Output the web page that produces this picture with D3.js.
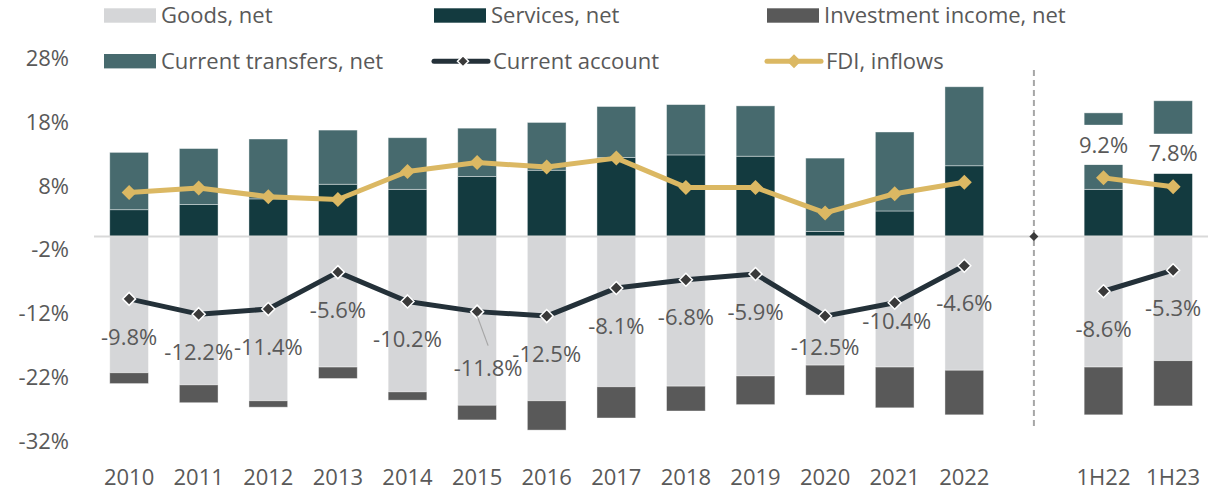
<!DOCTYPE html>
<html>
<head>
<meta charset="utf-8">
<script src="https://cdn.jsdelivr.net/npm/d3@7"></script>
<style>
  body { margin: 0; background: #fff; }
  text { font-family: "Segoe UI", "Open Sans", sans-serif; fill: #595959; }
</style>
</head>
<body>
<div id="chart"></div>
<script>
// data (% of GDP)
var categories = ["2010","2011","2012","2013","2014","2015","2016","2017","2018","2019","2020","2021","2022","","1H22","1H23"];
var goods      = [-21.4,-23.3,-25.8,-20.5,-24.4,-26.5,-25.8,-23.6,-23.5,-21.9,-20.2,-20.5,-21.0,null,-20.5,-19.5];
var services   = [4.2,5.0,5.9,8.2,7.4,9.4,10.4,12.4,12.8,12.6,0.8,4.0,11.1,null,7.4,10.2];
var investment = [-1.7,-2.8,-1.0,-1.8,-1.3,-2.3,-4.6,-4.9,-3.9,-4.5,-4.7,-6.4,-7.0,null,-7.5,-7.1];
var transfers  = [9.0,8.8,9.4,8.5,8.1,7.6,7.5,8.0,7.9,7.9,11.5,12.4,12.4,null,12.0,11.1];
var currentAccount = [-9.8,-12.2,-11.4,-5.6,-10.2,-11.8,-12.5,-8.1,-6.8,-5.9,-12.5,-10.4,-4.6,0,-8.6,-5.3];
var fdi        = [6.9,7.6,6.25,5.8,10.2,11.6,10.9,12.3,7.7,7.7,3.7,6.7,8.5,null,9.2,7.8];
var fdiLabelled = ["1H22","1H23"];
var tickValues = [28,18,8,-2,-12,-22,-32];
var seriesNames = ["Goods, net","Services, net","Investment income, net","Current transfers, net","Current account","FDI, inflows"];

var width = 1219, height = 489;
var colors = {
  goods: "#d5d6d8", services: "#133a3f", investment: "#595959",
  transfers: "#476a6e", ca: "#243139", caMarker: "#3a3a3a", fdi: "#dbb863"
};

var svg = d3.select("#chart").append("svg")
  .attr("width", width)
  .attr("height", height);

var x = d3.scaleBand()
  .domain(d3.range(categories.length))
  .range([94.3, 1207.9])
  .paddingInner(0.444)
  .paddingOuter(0.222);

var y = d3.scaleLinear().domain([-32, 28]).range([440.3, 58.1]);

function cx(i) { return x(i) + x.bandwidth() / 2; }
function diamond(r) { return "M0," + (-r) + "L" + r + ",0L0," + r + "L" + (-r) + ",0Z"; }

// y axis
var yAxis = svg.append("g")
  .attr("transform", "translate(69,0)")
  .call(d3.axisLeft(y).tickValues(tickValues).tickSize(0).tickPadding(0)
    .tickFormat(function(d){ return d + "%"; }));
yAxis.select(".domain").remove();
yAxis.selectAll("text")
  .attr("font-size", "22px")
  .attr("font-family", null)
  .attr("fill", "#595959")
  .attr("dy", "0.35em");

// stacked bars
var rows = categories.map(function(c, i){
  return { i: i, services: services[i] || 0, transfers: transfers[i] || 0,
           goods: goods[i] || 0, investment: investment[i] || 0, gap: goods[i] === null };
});
var keys = ["services","transfers","goods","investment"];
var stacked = d3.stack().keys(keys).offset(d3.stackOffsetDiverging)(rows);

svg.append("g").selectAll("g")
  .data(stacked).enter().append("g")
  .attr("fill", function(d){ return colors[d.key]; })
  .selectAll("rect")
  .data(function(d){ return d.filter(function(p){ return !p.data.gap; }); })
  .enter().append("rect")
  .attr("x", function(d){ return x(d.data.i); })
  .attr("width", x.bandwidth())
  .attr("y", function(d){ return y(Math.max(d[0], d[1])); })
  .attr("height", function(d){ return Math.abs(y(d[0]) - y(d[1])); })
  .attr("stroke", "#fff")
  .attr("stroke-opacity", 0.5)
  .attr("stroke-width", 0.8);

// zero line
svg.append("line")
  .attr("x1", 94).attr("x2", 1208)
  .attr("y1", y(0)).attr("y2", y(0))
  .attr("stroke", "#d9d9d9").attr("stroke-width", 2);

// divider between annual and half-year data
var gapIndex = categories.indexOf("");
svg.append("line")
  .attr("x1", cx(gapIndex)).attr("x2", cx(gapIndex))
  .attr("y1", 70).attr("y2", 429)
  .attr("stroke", "#a6a6a6").attr("stroke-width", 2)
  .attr("stroke-dasharray", "6,4");

// groups of points that are joined by lines
var groups = [d3.range(0, gapIndex), d3.range(gapIndex + 1, categories.length)];

var line = d3.line()
  .x(function(d){ return cx(d.i); })
  .y(function(d){ return y(d.v); });

function series(values) {
  return groups.map(function(g){ return g.map(function(i){ return { i: i, v: values[i] }; }); });
}

// FDI line
svg.append("g").selectAll("path")
  .data(series(fdi)).enter().append("path")
  .attr("d", line)
  .attr("fill", "none")
  .attr("stroke", colors.fdi)
  .attr("stroke-width", 5)
  .attr("stroke-linejoin", "round");
svg.append("g").selectAll("path")
  .data(fdi.map(function(v, i){ return { i: i, v: v }; }).filter(function(d){ return d.v !== null; }))
  .enter().append("path")
  .attr("transform", function(d){ return "translate(" + cx(d.i) + "," + y(d.v) + ")"; })
  .attr("d", diamond(7.5))
  .attr("fill", colors.fdi);

// FDI labels (white boxes)
var fdiLab = svg.append("g").selectAll("g")
  .data(fdi.map(function(v, i){ return { i: i, v: v }; })
    .filter(function(d){ return fdiLabelled.indexOf(categories[d.i]) >= 0; }))
  .enter().append("g")
  .attr("transform", function(d){ return "translate(" + cx(d.i) + "," + (y(d.v) - 33) + ")"; });
fdiLab.append("rect")
  .attr("x", -28).attr("y", -20).attr("width", 56).attr("height", 40)
  .attr("fill", "#fff");
fdiLab.append("text")
  .attr("text-anchor", "middle")
  .attr("dy", "0.35em")
  .attr("font-size", "22px")
  .attr("fill", "#404040")
  .text(function(d){ return d.v.toFixed(1) + "%"; });

// current account line
svg.append("g").selectAll("path")
  .data(series(currentAccount)).enter().append("path")
  .attr("d", line)
  .attr("fill", "none")
  .attr("stroke", colors.ca)
  .attr("stroke-width", 5)
  .attr("stroke-linejoin", "round");
svg.append("g").selectAll("path")
  .data(currentAccount.map(function(v, i){ return { i: i, v: v }; }))
  .enter().append("path")
  .attr("transform", function(d){ return "translate(" + cx(d.i) + "," + y(d.v) + ")"; })
  .attr("d", function(d){ return diamond(categories[d.i] === "" ? 4.5 : 6.5); })
  .attr("fill", colors.caMarker)
  .attr("stroke", function(d){ return categories[d.i] === "" ? "none" : "#fff"; })
  .attr("stroke-width", 1.5);

// current account labels, a few moved by hand
var labelShift = { "2015": [11, 56.6], "2020": [0, 31], "2021": [2, 19] };
svg.append("g").selectAll("text")
  .data(currentAccount.map(function(v, i){ return { i: i, v: v }; })
    .filter(function(d){ return categories[d.i] !== ""; }))
  .enter().append("text")
  .attr("x", function(d){ var s = labelShift[categories[d.i]]; return cx(d.i) + (s ? s[0] : 0); })
  .attr("y", function(d){ var s = labelShift[categories[d.i]]; return y(d.v) + (s ? s[1] : 38); })
  .attr("dy", "0.35em")
  .attr("text-anchor", "middle")
  .attr("font-size", "22px")
  .attr("fill", "#404040")
  .text(function(d){ return d.v.toFixed(1) + "%"; });

// leader line for 2015
var i2015 = categories.indexOf("2015");
svg.append("line")
  .attr("x1", cx(i2015)).attr("y1", y(currentAccount[i2015]) + 4)
  .attr("x2", cx(i2015) + 11).attr("y2", y(currentAccount[i2015]) + 34)
  .attr("stroke", "#a6a6a6").attr("stroke-width", 1.2);

// x labels
svg.append("g").selectAll("text")
  .data(categories).enter().append("text")
  .attr("x", function(d, i){ return cx(i); })
  .attr("y", 484.5)
  .attr("text-anchor", "middle")
  .attr("font-size", "22px")
  .text(function(d){ return d; });

// legend
var legendItems = [
  { name: seriesNames[0], type: "bar",  color: colors.goods,      col: 0, row: 0 },
  { name: seriesNames[1], type: "bar",  color: colors.services,   col: 1, row: 0 },
  { name: seriesNames[2], type: "bar",  color: colors.investment, col: 2, row: 0 },
  { name: seriesNames[3], type: "bar",  color: colors.transfers,  col: 0, row: 1 },
  { name: seriesNames[4], type: "ca",   color: colors.ca,         col: 1, row: 1 },
  { name: seriesNames[5], type: "fdi",  color: colors.fdi,        col: 2, row: 1 }
];
var colX = [104, 434, 767], rowY = [15.5, 61.2];

var leg = svg.append("g").selectAll("g")
  .data(legendItems).enter().append("g")
  .attr("transform", function(d){ return "translate(" + colX[d.col] + "," + rowY[d.row] + ")"; });

leg.filter(function(d){ return d.type === "bar"; }).append("rect")
  .attr("x", 0).attr("y", -7.2).attr("width", 52).attr("height", 14.4)
  .attr("fill", function(d){ return d.color; });

leg.filter(function(d){ return d.type !== "bar"; }).append("line")
  .attr("x1", 0).attr("x2", 54).attr("y1", 0).attr("y2", 0)
  .attr("stroke", function(d){ return d.color; })
  .attr("stroke-width", 5)
  .attr("stroke-linecap", "round");

leg.filter(function(d){ return d.type === "ca"; }).append("path")
  .attr("transform", "translate(29,0)")
  .attr("d", diamond(5.5))
  .attr("fill", colors.caMarker)
  .attr("stroke", "#fff").attr("stroke-width", 1.5);

leg.filter(function(d){ return d.type === "fdi"; }).append("path")
  .attr("transform", "translate(27,0)")
  .attr("d", diamond(7))
  .attr("fill", colors.fdi);

leg.append("text")
  .attr("x", function(d){ return d.type === "bar" ? 57 : 59; })
  .attr("dy", "0.35em")
  .attr("font-size", "22px")
  .text(function(d){ return d.name; });
</script>
</body>
</html>
